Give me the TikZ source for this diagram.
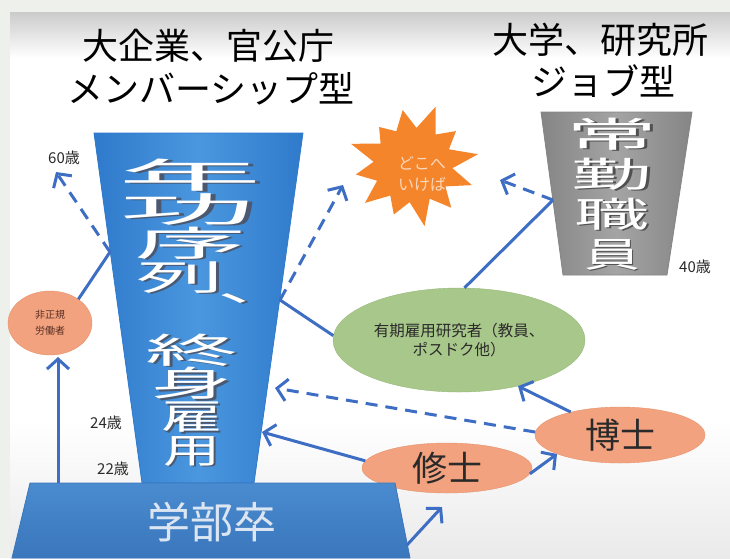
\documentclass[tikz,border=0pt]{standalone}
\usepackage{fontspec}
\usepackage{graphicx}
\newfontfamily\jp{Noto Sans CJK JP}
\usetikzlibrary{shapes.geometric,arrows.meta}
\definecolor{framec}{HTML}{EEF0EC}
\definecolor{topgrey}{HTML}{CBCBCB}
\definecolor{botgrey}{HTML}{EAEAEA}
\definecolor{lineblue}{HTML}{3D6EC3}
\definecolor{tblueD}{HTML}{2F7ACB}
\definecolor{tblueL}{HTML}{4A97DF}
\definecolor{bblueT}{HTML}{4A8BD0}
\definecolor{bblueB}{HTML}{3A76BB}
\definecolor{greyD}{HTML}{858585}
\definecolor{greyL}{HTML}{A4A4A4}
\definecolor{shadowc}{HTML}{4A5870}
\definecolor{shadowg}{HTML}{505050}
\definecolor{salmon}{HTML}{F2A27E}
\definecolor{salmonD}{HTML}{E7936E}
\definecolor{greenf}{HTML}{A8C78A}
\definecolor{greenD}{HTML}{97B878}
\definecolor{starorange}{HTML}{F5852A}
\definecolor{startext}{HTML}{FAD7BC}
\definecolor{txtdark}{HTML}{2A2A2A}
\definecolor{gakutxt}{HTML}{DCE6F2}
\definecolor{hiseitxt}{HTML}{5B3025}
% xscale, char, shadow colour
\newcommand\sh[3]{\scalebox{#1}[1]{%
  \rlap{\smash{\raisebox{-1.6pt}{\hspace{1.2pt}\textcolor{#3}{#2}}}}%
  \textcolor{white}{#2}}}
\tikzset{
  conn/.style={draw=lineblue, line width=3pt},
  arr/.style={conn, -{Straight Barb[length=10pt,width=22pt,line width=3pt]}},
  darr/.style={arr, dash pattern=on 12pt off 8pt},
  bigcol/.style={inner sep=0pt, align=center},
  title/.style={font=\jp\fontsize{36}{36}\selectfont, text=black, inner sep=0pt},
  age/.style={font=\jp\fontsize{15}{15}\selectfont, text=txtdark, inner sep=0pt},
  oval/.style={ellipse, inner sep=0pt, align=center},
}
\begin{document}
\begin{tikzpicture}[x=1pt,y=-1pt]
\useasboundingbox (0,0) rectangle (730,558);
% background
\fill[framec] (0,0) rectangle (730,558);
\fill[white] (10,12) rectangle (730,558);
\shade[top color=topgrey, bottom color=white] (10,12) rectangle (730,58);
\shade[top color=white, bottom color=botgrey] (10,420) rectangle (730,558);

% titles
\node[title] (t1) at (208,46) {大企業、官公庁};
\node[title] (t2) at (211,89) {メンバーシップ型};
\node[title] (t3) at (600,40) {大学、研究所};
\node[title] (t4) at (603,81) {ジョブ型};

% tall blue trapezoid
\shade[left color=tblueD, right color=tblueD, middle color=tblueL, draw=tblueD, line width=0.8pt]
  (94,133) -- (303,133) -- (254,483) -- (142,483) -- cycle;
\coordinate (p1) at (110,252);
\coordinate (p2) at (280,300);
\coordinate (p4) at (275,388);
\coordinate (p5) at (262,432);

\node[bigcol, font=\jp\fontsize{35}{34}\selectfont] (nenko) at (190,226)
  {\sh{4.1}{年}{shadowc}\\
   \hspace*{-4pt}\sh{3.9}{功}{shadowc}\\
   \sh{3.2}{序}{shadowc}\\
   \hspace*{-20pt}\sh{2.5}{列}{shadowc}\rlap{\kern-6.5pt\smash{\raisebox{-11pt}{\sh{2.4}{、}{shadowc}}}}};
\node[bigcol, font=\jp\fontsize{35}{33.3}\selectfont] (shushin) at (192,400)
  {\sh{2.65}{終}{shadowc}\\
   \sh{2.3}{身}{shadowc}\\
   \sh{1.75}{雇}{shadowc}\\
   \sh{1.63}{用}{shadowc}};

% grey trapezoid
\shade[left color=greyD, right color=greyD, middle color=greyL, draw=greyD, line width=0.8pt]
  (541,112) -- (692,112) -- (667,275) -- (563,275) -- cycle;
\coordinate (p3) at (553,200);
\node[bigcol, font=\jp\fontsize{35}{40}\selectfont] (jokin) at (612,194)
  {\sh{2.6}{常}{shadowg}\\
   \sh{2.3}{勤}{shadowg}\\
   \sh{2.15}{職}{shadowg}\\
   \sh{1.6}{員}{shadowg}};

% starburst
\fill[starorange] (478.0,154.2) -- (448.9,149.3) -- (456.0,131.1) -- (435.7,134.5)
  -- (435.6,106.7) -- (416.5,127.9) -- (402.7,110.0) -- (396.3,131.3)
  -- (379.1,127.0) -- (380.6,143.6) -- (351.0,143.8) -- (373.6,161.8)
  -- (355.8,174.5) -- (377.1,180.7) -- (365.0,202.9) -- (390.3,195.5)
  -- (393.8,214.5) -- (409.6,202.1) -- (424.5,226.1) -- (429.7,198.7)
  -- (451.2,207.7) -- (445.4,186.4) -- (471.9,185.1) -- (452.4,168.2) -- cycle;
\node[align=center, text=startext, font=\jp\fontsize{16}{21}\selectfont] (doko) at (422,174) {どこへ\\いけば};

% ellipses
\node[oval, minimum width=84pt, minimum height=64pt, fill=salmon, draw=salmonD,
      text=hiseitxt, font=\jp\fontsize{10}{16}\selectfont] (hiseiki) at (50,323) {非正規\\労働者};
\node[oval, minimum width=252pt, minimum height=104pt, fill=greenf, draw=greenD,
      text=txtdark, font=\jp\fontsize{15.5}{19}\selectfont] (midori) at (459,340) {有期雇用研究者（教員、\\ポスドク他）};
\node[text=white, font=\jp\fontsize{16}{19}\selectfont, align=center, opacity=0.9] (ghost) at (594,334) {有\\者};
\node[oval, minimum width=170pt, minimum height=50pt, fill=salmon, draw=salmonD,
      text=txtdark, font=\jp\fontsize{35}{35}\selectfont] (shushi) at (447,468) {修士};
\node[oval, minimum width=170pt, minimum height=56pt, fill=salmon, draw=salmonD,
      text=txtdark, font=\jp\fontsize{35}{35}\selectfont] (hakase) at (620,435) {博士};

% bottom trapezoid
\shade[top color=bblueT, bottom color=bblueB, draw=bblueB, line width=0.8pt]
  (30,483) -- (395,483) -- (410,558) -- (12,558) -- cycle;
\node[text=gakutxt, font=\jp\fontsize{43}{43}\selectfont, inner sep=0pt] (gakubu) at (212,522) {学部卒};
\coordinate (g1) at (58,483);
\coordinate (g2) at (407,545);

% age labels
\node[age] (a60) at (64,158) {60歳};
\node[age] (a24) at (106,423) {24歳};
\node[age] (a22) at (113,469) {22歳};
\node[age] (a40) at (695,267) {40歳};

% arrow end points
\coordinate (h1) at (58,357);
\coordinate (s60) at (56,172);
\coordinate (s1) at (343,185);
\coordinate (s2) at (500,180);
\coordinate (s3) at (442,507);
\coordinate (s4) at (557,454);

% connectors
\draw[arr] (g1) -- (h1);
\draw[conn] (hiseiki.40) -- (p1);
\draw[darr] (p1) -- (s60);
\draw[conn] (midori.178) -- (p2);
\draw[darr] (p2) -- (s1);
\draw[conn] (midori.84) -- (p3);
\draw[darr] (p3) -- (s2);
\draw[arr] (hakase.155) -- (midori.-38);
\draw[darr] (hakase.178) -- (p4);
\draw[arr] (shushi.175) -- (p5);
\draw[arr] (shushi.-4) -- (s4);
\draw[arr] (g2) -- (s3);
\end{tikzpicture}
\end{document}
